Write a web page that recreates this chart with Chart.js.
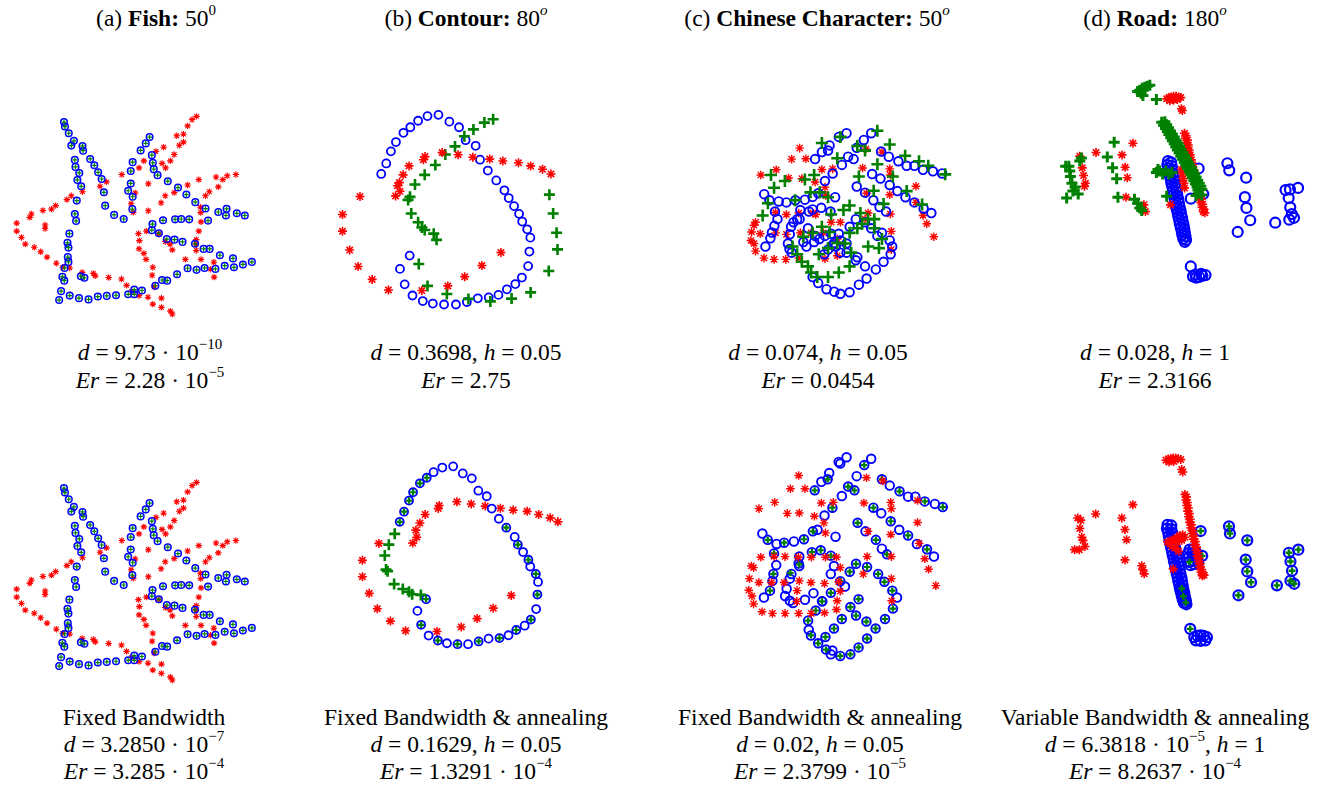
<!DOCTYPE html>
<html>
<head>
<meta charset="utf-8">
<script src="https://cdn.jsdelivr.net/npm/chart.js@4/dist/chart.umd.min.js"></script>
<style>
  html, body { margin: 0; padding: 0; background: #fff; }
  body { width: 1320px; height: 787px; position: relative; overflow: hidden;
         font-family: "Liberation Serif", "Times New Roman", serif; color: #000; }
  canvas { position: absolute; }
  .txt { position: absolute; width: 440px; text-align: center; font-size: 23.5px; line-height: 24px; white-space: nowrap; }
  .txt sup { font-size: 15px; line-height: 0; position: relative; top: -2px; }
</style>
</head>
<body>
<script>
// ---------- point sets (local panel units) ----------
// (a) Fish: template points coinciding with transformed points, and the rotated scene
const fishMatched = [[183,68],[186,82],[198,103],[214,127],[206,142],[241,143],[243,158],[217,187],[219,209],[231,228],[225,250],[237,270],[223,315],[217,357],[221,379],[200,419],[194,448],[197,463],[195,493],[197,508],[185,527],[178,555],[184,567],[174,600],[168,628],[201,614],[230,622],[260,626],[289,617],[317,615],[346,613],[384,610],[403,595],[403,610],[427,598],[469,583],[490,565],[506,567],[537,547],[570,528],[598,533],[623,527],[657,530],[686,520],[715,525],[743,516],[771,508],[712,497],[671,487],[620,467],[639,467],[593,451],[554,445],[529,438],[505,436],[480,418],[458,408],[460,389],[493,377],[531,374],[550,373],[575,374],[634,378],[626,340],[594,320],[666,351],[692,341],[690,362],[724,355],[749,362],[566,296],[540,274],[508,254],[476,235],[464,216],[461,196],[458,172],[451,115],[439,135],[423,157],[398,194],[392,222],[392,261],[384,284],[398,303],[397,342],[370,373],[340,360],[312,331],[308,289],[301,247],[290,226],[278,204],[265,184],[236,553],[247,558]];
const fishScene = [[598,50],[584,60],[570,80],[557,106],[536,111],[557,131],[544,141],[528,170],[516,190],[501,212],[490,198],[495,147],[471,160],[433,190],[418,212],[447,262],[364,233],[316,256],[296,270],[241,287],[206,300],[192,312],[157,331],[144,342],[117,346],[81,357],[76,368],[35,386],[35,411],[124,392],[124,403],[50,431],[62,452],[90,462],[110,476],[130,493],[159,512],[179,525],[201,527],[240,541],[275,544],[281,552],[323,557],[363,562],[379,582],[395,601],[418,614],[446,619],[461,641],[488,651],[516,663],[522,672],[488,622],[465,587],[459,550],[461,525],[440,500],[433,481],[418,467],[419,441],[416,419],[441,411],[480,420],[500,444],[515,452],[522,470],[563,500],[597,472],[597,438],[605,411],[612,382],[611,353],[610,336],[626,300],[638,287],[666,272],[680,249],[694,237],[659,241],[721,233],[605,249],[570,266],[528,290],[500,300],[487,322],[447,347],[406,291],[393,325],[400,352],[612,500],[652,509],[642,531],[653,556],[596,452]];

// (b) Contour, first pass
const contourTopModel = [[170,229],[186,195],[201,156],[217,126],[241,96],[263,78],[288,57],[318,42],[353,38],[388,60],[419,78],[440,120],[472,138],[486,183],[511,218],[538,250],[564,282],[578,307],[595,333],[611,358],[621,383],[637,408],[647,435],[644,480],[640,527],[620,564],[599,585],[572,602],[545,620],[514,628],[479,631],[444,643],[409,651],[371,651],[335,648],[303,640],[270,622],[245,586],[230,536],[261,493]];
const contourTopFit = [[528,52],[500,63],[465,85],[436,107],[406,140],[375,166],[343,200],[309,232],[278,263],[262,303],[256,313],[266,357],[288,385],[300,402],[309,410],[338,422],[347,442],[290,520],[318,591],[380,617],[449,633],[519,641],[587,632],[648,612],[706,543],[734,473],[731,419],[720,357],[708,296]];
const contourTopScene = [[713,229],[686,214],[648,203],[609,193],[559,187],[517,181],[463,175],[416,167],[365,160],[310,173],[305,183],[259,203],[240,232],[228,257],[222,267],[230,285],[216,300],[102,302],[46,360],[46,414],[69,475],[96,528],[141,570],[193,604],[300,606],[383,591],[437,561],[492,525],[553,483]];

// (b) Contour, annealed pass
const contourBotModel = [[338,43],[303,47],[275,62],[253,80],[231,98],[209,127],[196,154],[180,190],[166,223],[369,66],[398,82],[419,122],[446,140],[462,180],[485,213],[509,242],[536,272],[546,297],[563,321],[580,346],[586,368],[604,392],[611,418],[609,459],[605,506],[588,540],[568,560],[541,574],[516,591],[487,600],[452,602],[420,611],[386,620],[352,620],[318,617],[289,608],[259,592],[235,557],[223,512],[251,474]];
const contourBotFitIn = [[253,80],[231,98],[209,127],[196,154],[180,190],[166,223],[509,242],[546,297],[580,346],[604,392],[609,459],[588,540],[541,574],[487,600],[420,611],[352,620],[289,608],[235,557],[251,474]];
const contourBotFitOut = [[150,262],[131,297],[118,332],[122,378],[127,383],[148,425],[176,441],[196,450],[206,458],[234,460]];
const contourBotScene = [[675,223],[650,210],[613,199],[576,189],[531,185],[490,179],[441,172],[396,165],[350,158],[293,170],[290,180],[248,199],[231,227],[218,250],[221,273],[208,292],[99,293],[46,348],[46,401],[68,455],[94,505],[136,545],[185,576],[286,579],[364,564],[415,537],[467,503],[525,462]];

// (c) Chinese character, first pass
const hanziTopModel = [[350,48],[325,60],[430,48],[406,70],[383,96],[295,88],[290,105],[270,110],[248,133],[355,125],[373,133],[335,152],[305,180],[280,205],[462,108],[487,125],[518,140],[545,155],[570,155],[598,168],[630,173],[660,180],[433,182],[460,197],[490,218],[515,238],[541,258],[570,275],[600,295],[625,310],[383,223],[410,243],[437,268],[457,290],[478,305],[313,258],[258,245],[240,257],[215,266],[184,268],[155,275],[130,272],[100,268],[83,248],[118,305],[126,330],[116,352],[108,374],[103,393],[87,420],[200,300],[228,305],[240,298],[268,293],[298,305],[178,340],[170,355],[166,380],[160,410],[165,428],[172,440],[190,330],[198,330],[210,405],[220,420],[245,405],[262,395],[280,385],[300,378],[310,408],[315,420],[325,378],[330,400],[350,410],[360,355],[380,330],[410,340],[430,360],[450,385],[465,375],[490,400],[498,420],[493,445],[470,470],[445,495],[410,485],[380,465],[350,440],[330,440],[385,455],[415,525],[390,545],[360,570],[330,575],[310,568],[285,560],[258,540],[240,520],[278,445],[290,430],[248,385],[225,360],[305,415]];
const hanziTopFit = [[450,40],[490,85],[540,122],[585,140],[615,155],[670,183],[450,150],[500,190],[545,238],[595,282],[438,237],[470,280],[390,190],[320,130],[330,60],[270,80],[385,90],[410,105],[245,185],[215,200],[150,205],[105,185],[115,227],[95,278],[78,318],[183,268],[233,242],[263,242],[290,258],[300,315],[340,300],[360,285],[395,310],[420,330],[270,355],[295,372],[240,375],[210,388],[175,420],[190,445],[205,470],[225,485],[235,505],[255,520],[290,520],[325,505],[360,485],[365,440],[345,410],[320,408],[290,425],[260,445],[420,420],[455,425],[465,395],[440,360],[385,360],[360,375],[440,330],[400,345]];
const hanziTopScene = [[198,97],[172,133],[218,132],[122,168],[72,185],[162,195],[205,197],[248,208],[270,167],[305,165],[280,225],[283,252],[402,162],[413,100],[465,110],[490,165],[492,185],[575,222],[490,250],[415,245],[575,275],[598,318],[610,345],[633,388],[492,313],[495,370],[495,430],[410,330],[420,310],[330,340],[300,340],[250,315],[240,310],[195,310],[155,315],[120,308],[55,340],[50,350],[42,372],[70,378],[40,400],[50,410],[55,435],[82,458],[115,462],[153,462],[195,458],[280,460],[320,450],[320,395],[275,375],[235,375],[200,375],[155,380],[120,375]];

// (c) Chinese character, annealed pass
const hanziBotModel = [[350,35],[325,50],[330,55],[428,40],[406,60],[382,95],[295,85],[290,105],[270,113],[249,140],[355,128],[375,140],[335,158],[305,195],[280,220],[462,105],[487,125],[518,143],[545,160],[568,160],[598,175],[630,183],[655,193],[435,195],[460,213],[490,238],[517,265],[545,283],[573,310],[605,327],[627,350],[385,243],[410,270],[443,297],[462,325],[478,343],[315,287],[258,265],[243,270],[215,295],[183,302],[152,306],[128,310],[100,297],[83,277],[120,340],[127,377],[118,405],[115,427],[107,458],[88,480],[200,350],[240,336],[268,330],[300,347],[175,405],[170,420],[160,452],[155,475],[170,490],[180,497],[198,372],[200,380],[218,487],[245,466],[273,492],[300,465],[300,405],[310,380],[330,428],[345,445],[360,398],[380,373],[415,383],[450,405],[470,430],[495,458],[510,480],[497,515],[472,548],[442,578],[413,556],[380,537],[362,510],[335,548],[310,578],[283,605],[260,625],[237,600],[230,582],[228,553],[252,521],[272,492],[388,485],[415,610],[388,638],[362,660],[330,665],[305,648],[285,645],[300,660]];
const hanziBotFit = [[406,60],[290,105],[249,140],[355,128],[375,140],[305,195],[462,105],[518,143],[598,175],[655,193],[435,195],[490,238],[545,283],[605,327],[385,243],[443,297],[478,343],[243,270],[215,295],[152,306],[100,297],[120,340],[118,405],[107,458],[172,402],[200,375],[240,336],[268,330],[300,347],[330,428],[360,398],[380,373],[415,383],[450,405],[470,430],[495,458],[497,515],[472,548],[442,578],[413,556],[380,537],[362,510],[335,548],[310,578],[283,605],[260,625],[237,600],[228,553],[252,521],[272,492],[300,465],[388,485],[415,610],[388,638],[362,660],[330,665],[285,645]];
const hanziBotScene = [[198,93],[172,135],[218,135],[122,178],[72,198],[162,213],[200,212],[248,222],[270,180],[308,178],[278,243],[283,275],[405,180],[413,100],[465,110],[490,178],[492,198],[575,172],[575,242],[490,280],[418,270],[580,308],[598,357],[610,390],[633,442],[492,350],[492,420],[493,490],[415,350],[403,405],[330,385],[325,430],[330,460],[320,490],[280,435],[237,432],[200,427],[152,432],[112,432],[72,432],[42,420],[55,385],[48,380],[78,352],[120,350],[155,350],[197,352],[238,352],[283,352],[318,352],[40,457],[50,475],[55,500],[82,525],[115,530],[155,530],[198,530],[238,530],[280,528],[318,518],[192,492],[193,458]];

// (d) Road, first pass
const roadTopModel = [[382,268],[392,272],[380,280],[394,284],[384,292],[396,296],[386,304],[398,308],[388,316],[401,320],[391,328],[403,332],[393,340],[405,344],[396,352],[408,356],[398,364],[410,368],[400,376],[412,380],[403,388],[415,392],[405,400],[417,404],[408,412],[419,416],[410,424],[422,428],[413,436],[424,440],[415,448],[427,452],[418,460],[429,464],[420,472],[432,476],[423,484],[434,488],[426,496],[436,500],[428,508],[438,512],[431,520],[440,524],[436,530],[455,390],[480,292],[495,375],[572,275],[578,298],[632,322],[628,385],[633,420],[645,460],[605,498],[725,468],[758,362],[772,360],[798,355],[768,388],[773,418],[778,440],[770,458],[785,452],[455,610],[462,642],[472,646],[482,644],[492,640],[502,638],[470,636],[488,634]];
const roadTopFit = [[362,142],[372,140],[368,152],[378,150],[374,162],[384,160],[380,172],[390,170],[385,182],[396,180],[391,192],[402,190],[396,202],[408,200],[402,212],[414,210],[407,222],[419,220],[412,232],[424,230],[418,242],[430,240],[423,252],[435,250],[428,262],[441,260],[434,272],[446,270],[439,282],[451,280],[444,292],[457,290],[450,302],[462,300],[455,312],[467,310],[460,322],[472,320],[465,332],[477,330],[470,342],[482,340],[475,352],[487,350],[478,362],[490,360],[480,372],[490,378],[472,380],[345,305],[355,300],[365,310],[375,300],[385,310],[395,305],[350,295],[285,42],[292,38],[300,32],[308,28],[316,25],[324,22],[296,48],[302,55],[345,68],[210,207],[188,255],[205,290],[218,325],[222,385],[275,392],[285,405],[292,420],[298,428],[105,258],[100,268],[55,285],[65,285],[68,300],[70,318],[75,340],[85,352],[78,365],[95,375],[58,388],[378,382]];
const roadTopScene = [[435,178],[440,186],[438,194],[444,200],[442,210],[447,216],[445,226],[450,232],[448,242],[453,248],[451,258],[457,264],[455,274],[461,280],[459,290],[465,296],[463,306],[469,312],[467,322],[473,328],[471,338],[477,344],[475,354],[481,360],[479,370],[485,376],[483,386],[489,392],[487,402],[493,408],[491,418],[497,424],[495,432],[500,436],[425,295],[428,310],[430,325],[433,340],[435,355],[378,66],[385,62],[392,60],[400,58],[408,58],[416,60],[423,62],[388,72],[400,70],[412,68],[425,98],[428,104],[270,210],[235,248],[245,288],[252,322],[248,385],[305,410],[310,432],[152,240],[100,252],[108,290],[112,315],[118,340],[115,350],[390,410]];

// (d) Road, variable bandwidth with annealing
const roadBotModel = [[350,250],[362,252],[348,262],[362,264],[352,274],[365,276],[354,286],[367,288],[356,298],[369,300],[359,310],[371,312],[361,322],[374,324],[364,334],[376,336],[366,346],[379,348],[369,358],[381,360],[371,370],[384,372],[374,382],[386,384],[377,394],[389,396],[379,406],[391,408],[382,418],[394,420],[384,430],[396,432],[387,442],[398,444],[389,454],[400,456],[392,466],[403,468],[395,478],[405,480],[398,490],[408,492],[402,502],[410,506],[420,330],[432,328],[415,342],[428,340],[440,338],[418,355],[430,352],[442,350],[420,368],[432,365],[444,362],[423,380],[435,377],[447,372],[435,612],[445,608],[455,606],[465,608],[475,612],[440,622],[455,624],[470,622]];
const roadBotMatched = [[455,270],[545,255],[548,278],[603,300],[598,362],[603,400],[615,435],[575,477],[697,445],[735,340],[765,330],[740,368],[745,398],[740,430],[752,440],[422,585],[395,455],[400,480],[408,500],[460,350],[420,370]];
const roadBotScene = [[345,42],[352,38],[360,36],[368,35],[376,35],[384,37],[392,40],[355,48],[370,46],[395,72],[398,80],[405,152],[410,160],[408,170],[413,178],[411,188],[416,196],[414,206],[419,214],[417,224],[422,232],[420,242],[426,250],[424,260],[430,268],[428,278],[434,286],[432,296],[438,304],[436,314],[442,322],[440,332],[446,340],[444,350],[450,358],[448,368],[454,376],[452,386],[458,394],[456,402],[462,408],[460,414],[466,412],[350,305],[358,312],[362,300],[372,296],[370,310],[380,290],[388,285],[398,282],[405,290],[380,305],[375,325],[385,335],[365,320],[395,300],[240,185],[205,228],[215,265],[220,298],[215,363],[268,382],[272,395],[276,408],[122,215],[65,228],[75,235],[72,262],[78,290],[82,300],[88,320],[55,330],[70,330],[368,392]];

// ---------- captions ----------
const titles = [
  ['(a) <b>Fish:</b> 50<sup>0</sup>', 156],
  ['(b) <b>Contour:</b> 80<sup><i>o</i></sup>', 466],
  ['(c) <b>Chinese Character:</b> 50<sup><i>o</i></sup>', 817],
  ['(d) <b>Road:</b> 180<sup><i>o</i></sup>', 1155]
];
const topCaptions = [
  [['<i>d</i> = 9.73 · 10<sup>−10</sup>', '<i>Er</i> = 2.28 · 10<sup>−5</sup>'], 150],
  [['<i>d</i> = 0.3698, <i>h</i> = 0.05', '<i>Er</i> = 2.75'], 466],
  [['<i>d</i> = 0.074, <i>h</i> = 0.05', '<i>Er</i> = 0.0454'], 818],
  [['<i>d</i> = 0.028, <i>h</i> = 1', '<i>Er</i> = 2.3166'], 1155]
];
const bottomCaptions = [
  [['Fixed Bandwidth', '<i>d</i> = 3.2850 · 10<sup>−7</sup>', '<i>Er</i> = 3.285 · 10<sup>−4</sup>'], 144],
  [['Fixed Bandwidth &amp; annealing', '<i>d</i> = 0.1629, <i>h</i> = 0.05', '<i>Er</i> = 1.3291 · 10<sup>−4</sup>'], 466],
  [['Fixed Bandwidth &amp; annealing', '<i>d</i> = 0.02, <i>h</i> = 0.05', '<i>Er</i> = 2.3799 · 10<sup>−5</sup>'], 820],
  [['Variable Bandwidth &amp; annealing', '<i>d</i> = 6.3818 · 10<sup>−5</sup>, <i>h</i> = 1', '<i>Er</i> = 8.2637 · 10<sup>−4</sup>'], 1155]
];

function addText(html, cx, cy) {
  const d = document.createElement('div');
  d.className = 'txt';
  d.innerHTML = html;
  d.style.left = (cx - 220) + 'px';
  d.style.top = (cy - 12) + 'px';
  document.body.appendChild(d);
}
titles.forEach(([t, cx]) => addText(t, cx, 18));
topCaptions.forEach(([lines, cx]) => lines.forEach((l, i) => addText(l, cx, 352 + i * 28)));
bottomCaptions.forEach(([lines, cx]) => lines.forEach((l, i) => addText(l, cx, 717 + i * 27)));

// ---------- marker styles ----------
const toXY = arr => arr.map(([x, y]) => ({ x, y }));
function circles(pts, r, w, order) {
  return { data: toXY(pts), pointStyle: 'circle', pointRadius: r, pointBorderWidth: w,
           pointBackgroundColor: 'rgba(0,0,0,0)', pointBorderColor: '#0000ff', order, clip: false };
}
function pluses(pts, r, w, order) {
  return { data: toXY(pts), pointStyle: 'cross', pointRadius: r, pointBorderWidth: w,
           pointBorderColor: '#008000', pointBackgroundColor: '#008000', order, clip: false };
}
function stars(pts, r, w, order) {
  return { data: toXY(pts), pointStyle: 'star', pointRadius: r, pointBorderWidth: w,
           pointBorderColor: '#ff0000', pointBackgroundColor: '#ff0000', order, clip: false };
}

function panel(left, top, w, h, xMax, yMax, datasets) {
  const c = document.createElement('canvas');
  c.width = w; c.height = h;
  c.style.left = left + 'px'; c.style.top = top + 'px';
  c.style.width = w + 'px'; c.style.height = h + 'px';
  document.body.appendChild(c);
  new Chart(c, {
    type: 'scatter',
    data: { datasets },
    options: {
      responsive: false, animation: false, devicePixelRatio: 1,
      layout: { padding: 0 },
      plugins: { legend: { display: false }, tooltip: { enabled: false } },
      events: [],
      scales: {
        x: { type: 'linear', min: 0, max: xMax, display: false },
        y: { type: 'linear', min: 0, max: yMax, reverse: true, display: false }
      }
    }
  });
}

// Fish (same scene in both rows)
[95, 460.7].forEach(top => panel(0, top, 265, 235, 795, 705, [
  stars(fishScene, 3.2, 1.1, 3),
  circles(fishMatched, 3.3, 1.5, 2),
  pluses(fishMatched, 2.4, 1.2, 1)
]));

// Contour
panel(320, 95, 260, 225, 780, 675, [
  circles(contourTopModel, 4, 1.8, 3),
  pluses(contourTopFit, 5.5, 2.6, 2),
  stars(contourTopScene, 4.5, 1.6, 1)
]);
panel(340, 445, 240, 215, 720, 645, [
  stars(contourBotScene, 4.5, 1.6, 3),
  circles(contourBotModel, 4, 1.8, 2),
  pluses(contourBotFitIn, 3.2, 2.2, 1),
  pluses(contourBotFitOut, 5.5, 2.6, 1)
]);

// Chinese character
panel(730, 110, 230, 200, 690, 600, [
  stars(hanziTopScene, 4.3, 1.4, 3),
  circles(hanziTopModel, 4.3, 1.9, 2),
  pluses(hanziTopFit, 6, 2.6, 1)
]);
panel(730, 440, 230, 230, 690, 690, [
  stars(hanziBotScene, 4.3, 1.4, 1),
  circles(hanziBotModel, 4.3, 1.9, 3),
  pluses(hanziBotFit, 3.2, 2.2, 2)
]);

// Road
panel(1040, 70, 275, 225, 825, 675, [
  circles(roadTopModel, 5, 2.2, 3),
  stars(roadTopScene, 4.5, 1.6, 2),
  pluses(roadTopFit, 5.5, 3, 1)
]);
panel(1050, 440, 265, 210, 795, 630, [
  circles(roadBotModel, 5, 2.2, 3),
  circles(roadBotMatched, 5, 2.2, 3),
  pluses(roadBotMatched, 3.4, 2.4, 2),
  stars(roadBotScene, 4.5, 1.6, 1)
]);
</script>
</body>
</html>
